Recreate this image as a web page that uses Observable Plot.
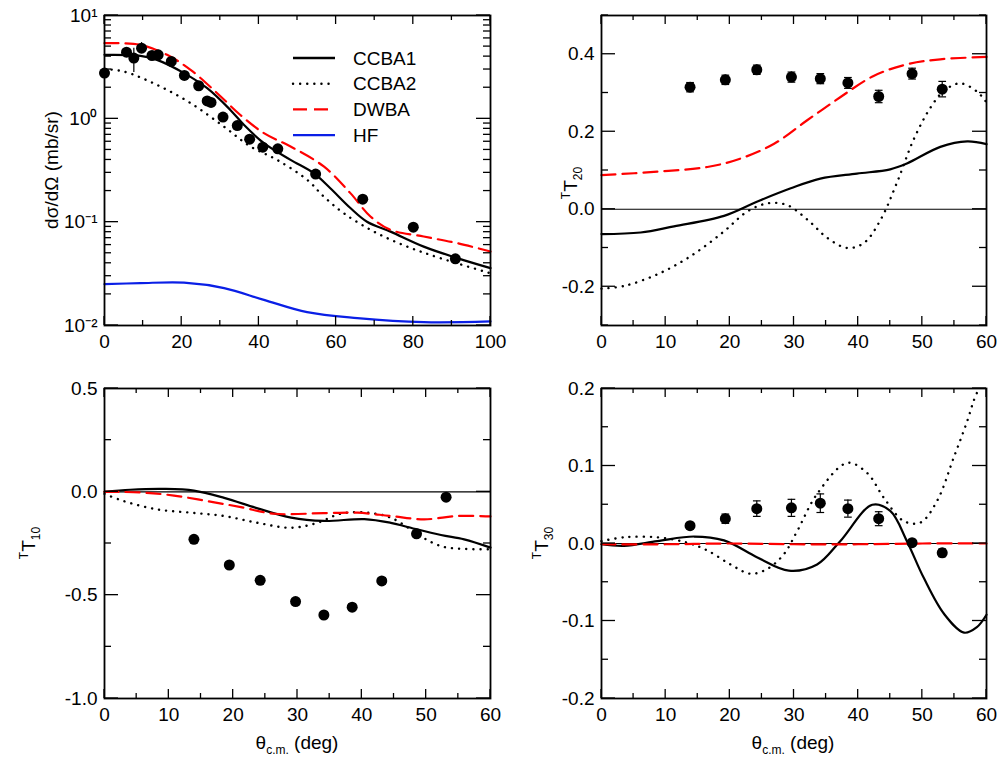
<!DOCTYPE html>
<html><head><meta charset="utf-8">
<script src="https://cdn.jsdelivr.net/npm/d3@7"></script>
<script src="https://cdn.jsdelivr.net/npm/@observablehq/plot@0.6"></script>
<style>
body{margin:0;background:#fff;font-family:"Liberation Sans",Arial,sans-serif;}
#wrap{position:relative;width:1003px;height:763px;}
#wrap svg.p{position:absolute;}
.yt{position:absolute;transform:translate(-50%,-50%) rotate(-90deg);font-size:19px;white-space:nowrap;}
.xt{position:absolute;transform:translateX(-50%);font-size:19px;white-space:nowrap;}
.yt sup{font-size:12px;} .yt sub,.xt sub{font-size:12px;}
</style></head><body>
<div id="wrap"></div>
<script>
// panel (a): cross section, x 0-100
const csExp = [[0,2.77],[5.7,4.42],[7.6,3.87],[9.6,4.83],[12.3,4.10],[13.9,4.16],[17.3,3.59],[20.7,2.63],[24.4,2.09],[26.6,1.49],[27.6,1.44],[30.7,1.04],[34.4,0.86],[37.6,0.636],[41.0,0.532],[44.9,0.513],[54.7,0.292],[66.9,0.167],[80,0.0895],[90.9,0.0442]];
const csErr = [[7.6,2.81,4.83],[9.6,4.3,5.47]];
const csCCBA1 = [[0,4.16],[9.3,4.07],[13.6,3.72],[20.6,2.77],[26.6,1.98],[32.6,1.22],[36.1,0.875],[41.3,0.582],[48.2,0.401],[54.2,0.298],[58.5,0.213],[63.7,0.137],[68.0,0.101],[74.1,0.081],[82.7,0.058],[91.4,0.0449],[100,0.0359]];
const csCCBA2 = [[0,3.03],[5,2.87],[13.6,2.13],[22.3,1.42],[30.9,0.843],[37.8,0.540],[44.7,0.401],[52.5,0.257],[56.8,0.177],[62,0.122],[69.8,0.081],[78.4,0.058],[87,0.0449],[100,0.032]];
const csDWBA = [[0,5.40],[9.3,5.20],[16.2,4.16],[22.3,2.98],[29.2,1.77],[35.2,1.09],[41.3,0.727],[48.2,0.540],[56.8,0.346],[63.7,0.191],[68.9,0.1135],[74.1,0.0843],[82.7,0.0726],[91.4,0.0626],[100,0.052]];
const csHF = [[0,0.0251],[9.3,0.0257],[20.6,0.026],[31,0.023],[41.3,0.0177],[52.5,0.01345],[65.5,0.0118],[82.7,0.01077],[100,0.01094]];

// panel (b): T20
const t20Exp = [[13.8,0.315,0.012],[19.3,0.334,0.012],[24.2,0.360,0.012],[29.6,0.341,0.013],[34.1,0.337,0.013],[38.4,0.326,0.014],[43.2,0.291,0.016],[48.4,0.350,0.014],[53.1,0.310,0.020]];
const t20DWBA = [[0,0.088],[8.7,0.097],[16.5,0.109],[21.7,0.131],[26.9,0.169],[32,0.229],[37.2,0.289],[42.4,0.344],[47.6,0.374],[52.8,0.387],[60,0.393]];
const t20CCBA1 = [[0,-0.064],[6.1,-0.060],[11.3,-0.044],[19.1,-0.017],[24.3,0.020],[29.5,0.054],[34.1,0.079],[39.8,0.092],[45,0.103],[47.6,0.118],[52.8,0.161],[57,0.175],[60,0.168]];
const t20CCBA2 = [[0,-0.205],[3.5,-0.198],[8.7,-0.168],[13.9,-0.121],[19.1,-0.057],[22.7,-0.006],[25.8,0.015],[28.9,0.011],[32.1,-0.027],[35.2,-0.074],[38.3,-0.100],[40.9,-0.087],[43.5,-0.027],[46.1,0.071],[48.7,0.182],[51.3,0.263],[53.4,0.306],[55.9,0.325],[58.5,0.304],[60,0.276]];

// panel (c): T10
const t10Exp = [[13.9,-0.230,0.012],[19.4,-0.354,0.012],[24.2,-0.428,0.012],[29.7,-0.531,0.015],[34.1,-0.596,0.016],[38.5,-0.558,0.016],[43.1,-0.431,0.016],[48.5,-0.203,0.012],[53.1,-0.026,0.012]];
const t10CCBA1 = [[0,0],[4,0.010],[9.2,0.014],[13.9,0.006],[18.6,-0.029],[23.8,-0.080],[29,-0.125],[34.1,-0.141],[40.4,-0.132],[44.5,-0.150],[47.1,-0.170],[52.3,-0.209],[55.9,-0.230],[60,-0.270]];
const t10CCBA2 = [[0,-0.010],[3,-0.045],[8.2,-0.085],[13.4,-0.101],[18.6,-0.117],[23.8,-0.150],[29,-0.174],[33.1,-0.150],[36.7,-0.106],[40.9,-0.101],[44.5,-0.125],[47.6,-0.182],[49.7,-0.225],[52.8,-0.267],[60,-0.278]];
const t10DWBA = [[0,0],[5.6,-0.003],[10.8,-0.018],[16,-0.045],[21.2,-0.074],[26.4,-0.106],[34.1,-0.103],[39.3,-0.101],[44.5,-0.117],[49.7,-0.133],[54.9,-0.117],[60,-0.119]];

// panel (d): T30
const t30Exp = [[13.8,0.023,0.004],[19.3,0.032,0.006],[24.2,0.045,0.010],[29.6,0.046,0.011],[34.1,0.052,0.012],[38.4,0.045,0.011],[43.2,0.032,0.009],[48.4,0.001,0.003],[53.1,-0.012,0.005]];
const t30CCBA1 = [[0,-0.001],[3.5,-0.003],[8.7,0.003],[14.4,0.009],[19.1,0.004],[24.3,-0.018],[29.2,-0.035],[33.6,-0.027],[37.2,0.003],[42.2,0.050],[45,0.042],[47.6,0.003],[50.2,-0.044],[53.4,-0.091],[56.5,-0.115],[58.5,-0.108],[60,-0.092]];
const t30CCBA2 = [[0,0.003],[3.5,0.008],[8.7,0.008],[13.4,0.001],[16.5,-0.009],[20.1,-0.027],[23.2,-0.039],[25.8,-0.033],[28.4,-0.014],[30.5,0.016],[33.6,0.064],[38.3,0.104],[41.4,0.091],[44,0.059],[47.1,0.029],[49.7,0.027],[52.3,0.055],[54.9,0.111],[57,0.158],[58,0.184],[58.8,0.205]];
const t30DWBA = [[0,-0.001],[10,-0.001],[20,0.0],[30,-0.001],[40,-0.001],[50,0.0],[60,0.0]];

const FONT = "Liberation Sans, Arial, sans-serif";
const wrap = d3.select("#wrap");

function curves(c1, c2, dw) {
  return [
    Plot.line(c1, {x: d => d[0], y: d => d[1], stroke: "black", strokeWidth: 2.2, curve: "catmull-rom"}),
    Plot.line(c2, {x: d => d[0], y: d => d[1], stroke: "black", strokeWidth: 2.4, strokeDasharray: "0.1 7", strokeLinecap: "round", curve: "catmull-rom"}),
    Plot.line(dw, {x: d => d[0], y: d => d[1], stroke: "#f00", strokeWidth: 2.2, strokeDasharray: "14 7", curve: "catmull-rom"})
  ];
}
function points(exp, w) {
  return [
    Plot.ruleX(exp, {x: d => d[0], y1: d => d[1] - d[2], y2: d => d[1] + d[2], strokeWidth: 1.2}),
    Plot.link(exp, {x1: d => d[0] - w, x2: d => d[0] + w, y1: d => d[1] - d[2], y2: d => d[1] - d[2], strokeWidth: 1.2}),
    Plot.link(exp, {x1: d => d[0] - w, x2: d => d[0] + w, y1: d => d[1] + d[2], y2: d => d[1] + d[2], strokeWidth: 1.2}),
    Plot.dot(exp, {x: d => d[0], y: d => d[1], r: 5.5, fill: "black"})
  ];
}
function labels(xMaj, yMaj, yFmt) {
  return [
    Plot.axisX(xMaj, {anchor: "bottom", tickSize: 0, tickPadding: 9, fontSize: 19, tickFormat: d => d}),
    Plot.axisY(yMaj, {anchor: "left", tickSize: 0, tickPadding: 7, fontSize: 19, tickFormat: yFmt}),
    Plot.frame({stroke: "black", strokeWidth: 1.8})
  ];
}
// inward ticks on all four sides, placed through the plot's own scales
function ticks(svg, xMaj, xMin, yMaj, yMin) {
  const sx = svg.scale("x"), sy = svg.scale("y");
  const [x0, x1] = sx.range, [y0, y1] = sy.range;
  const g = d3.select(svg).append("g").attr("stroke", "black").attr("stroke-width", 1.3);
  const tx = (v, len) => v.forEach(d => {
    const x = sx.apply(d);
    g.append("line").attr("x1", x).attr("x2", x).attr("y1", y0).attr("y2", y0 - len);
    g.append("line").attr("x1", x).attr("x2", x).attr("y1", y1).attr("y2", y1 + len);
  });
  const ty = (v, len) => v.forEach(d => {
    const y = sy.apply(d);
    g.append("line").attr("y1", y).attr("y2", y).attr("x1", x0).attr("x2", x0 + len);
    g.append("line").attr("y1", y).attr("y2", y).attr("x1", x1).attr("x2", x1 - len);
  });
  tx(xMaj, 9); tx(xMin, 5); ty(yMaj, 14); ty(yMin, 7);
}
function place(svg, left, top) {
  d3.select(svg).attr("class", "p").style("left", left + "px").style("top", top + "px");
  wrap.append(() => svg);
}

const sup = {"-2": "10\u207B\u00B2", "-1": "10\u207B\u00B9", "0": "10\u2070", "1": "10\u00B9"};
const logMinor = [];
for (let e = -2; e < 1; e++) for (let m = 2; m <= 9; m++) logMinor.push(m * 10 ** e);
const x60Maj = [0, 10, 20, 30, 40, 50, 60], x60Min = [5, 15, 25, 35, 45, 55];

const pA = Plot.plot({
  width: 500, height: 380, marginLeft: 104, marginRight: 10, marginTop: 15, marginBottom: 55,
  style: {fontFamily: FONT, overflow: "visible"},
  x: {domain: [0, 100], axis: null},
  y: {type: "log", domain: [0.01, 10], axis: null},
  marks: [
    Plot.line(csHF, {x: d => d[0], y: d => d[1], stroke: "#0a1fe6", strokeWidth: 2.2, curve: "catmull-rom"}),
    ...curves(csCCBA1, csCCBA2, csDWBA),
    Plot.ruleX(csErr, {x: d => d[0], y1: d => d[1], y2: d => d[2], strokeWidth: 1.2}),
    Plot.dot(csExp, {x: d => d[0], y: d => d[1], r: 5.5, fill: "black"}),
    ...labels([0, 20, 40, 60, 80, 100], [0.01, 0.1, 1, 10], d => sup[Math.round(Math.log10(d))])
  ]
});
ticks(pA, [0, 20, 40, 60, 80, 100], [10, 30, 50, 70, 90], [0.01, 0.1, 1, 10], logMinor);
place(pA, 0, 0);

const pB = Plot.plot({
  width: 500, height: 380, marginLeft: 101, marginRight: 14, marginTop: 15, marginBottom: 55,
  style: {fontFamily: FONT, overflow: "visible"},
  x: {domain: [0, 60], axis: null},
  y: {domain: [-0.3, 0.5], axis: null},
  marks: [
    Plot.ruleY([0], {strokeWidth: 1.2}),
    ...curves(t20CCBA1, t20CCBA2, t20DWBA),
    ...points(t20Exp, 0.6),
    ...labels(x60Maj, [-0.2, 0, 0.2, 0.4], d => d.toFixed(1))
  ]
});
ticks(pB, x60Maj, x60Min, [-0.2, 0, 0.2, 0.4], [-0.3, -0.1, 0.1, 0.3, 0.5]);
place(pB, 500, 0);

const pC = Plot.plot({
  width: 500, height: 383, marginLeft: 104, marginRight: 10, marginTop: 8, marginBottom: 65,
  style: {fontFamily: FONT, overflow: "visible"},
  x: {domain: [0, 60], axis: null},
  y: {domain: [-1, 0.5], axis: null},
  marks: [
    Plot.ruleY([0], {strokeWidth: 1.2}),
    ...curves(t10CCBA1, t10CCBA2, t10DWBA),
    ...points(t10Exp, 0.6),
    ...labels(x60Maj, [-1, -0.5, 0, 0.5], d => d.toFixed(1))
  ]
});
ticks(pC, x60Maj, x60Min, [-1, -0.5, 0, 0.5], [-0.75, -0.25, 0.25]);
place(pC, 0, 380);

const pD = Plot.plot({
  width: 500, height: 383, marginLeft: 101, marginRight: 14, marginTop: 8, marginBottom: 65,
  style: {fontFamily: FONT, overflow: "visible"},
  x: {domain: [0, 60], axis: null},
  y: {domain: [-0.2, 0.2], axis: null, clamp: true},
  marks: [
    Plot.ruleY([0], {strokeWidth: 1.2}),
    ...curves(t30CCBA1, t30CCBA2, t30DWBA),
    ...points(t30Exp, 0.6),
    ...labels(x60Maj, [-0.2, -0.1, 0, 0.1, 0.2], d => d.toFixed(1))
  ]
});
ticks(pD, x60Maj, x60Min, [-0.2, -0.1, 0, 0.1, 0.2], [-0.15, -0.05, 0.05, 0.15]);
place(pD, 500, 380);

// legend
const legendNames = ["CCBA1", "CCBA2", "DWBA", "HF"];
const legendStyle = [["black", null], ["black", "0.1 7"], ["#f00", "14 7"], ["#0a1fe6", null]];
const lg = wrap.append("svg").attr("width", 140).attr("height", 110)
  .style("position", "absolute").style("left", "285px").style("top", "42px");
legendNames.forEach((n, i) => {
  const y = 16 + i * 25.7;
  lg.append("line").attr("x1", 8).attr("x2", 50).attr("y1", y).attr("y2", y)
    .attr("stroke", legendStyle[i][0]).attr("stroke-width", 2.4)
    .attr("stroke-dasharray", legendStyle[i][1]).attr("stroke-linecap", i === 1 ? "round" : "butt");
  lg.append("text").attr("x", 68).attr("y", y + 6.5).attr("font-size", 19).attr("font-family", FONT).text(n);
});

// axis titles
wrap.append("div").attr("class", "yt").style("left", "52px").style("top", "170px").html("d&sigma;/d&Omega; (mb/sr)");
wrap.append("div").attr("class", "yt").style("left", "572px").style("top", "183px").html("<sup>T</sup>T<sub>20</sub>");
wrap.append("div").attr("class", "yt").style("left", "30px").style("top", "543px").html("<sup>T</sup>T<sub>10</sub>");
wrap.append("div").attr("class", "yt").style("left", "543px").style("top", "543px").html("<sup>T</sup>T<sub>30</sub>");
wrap.append("div").attr("class", "xt").style("left", "297px").style("top", "732px").html("&theta;<sub>c.m.</sub> (deg)");
wrap.append("div").attr("class", "xt").style("left", "793px").style("top", "732px").html("&theta;<sub>c.m.</sub> (deg)");
</script>
</body></html>
